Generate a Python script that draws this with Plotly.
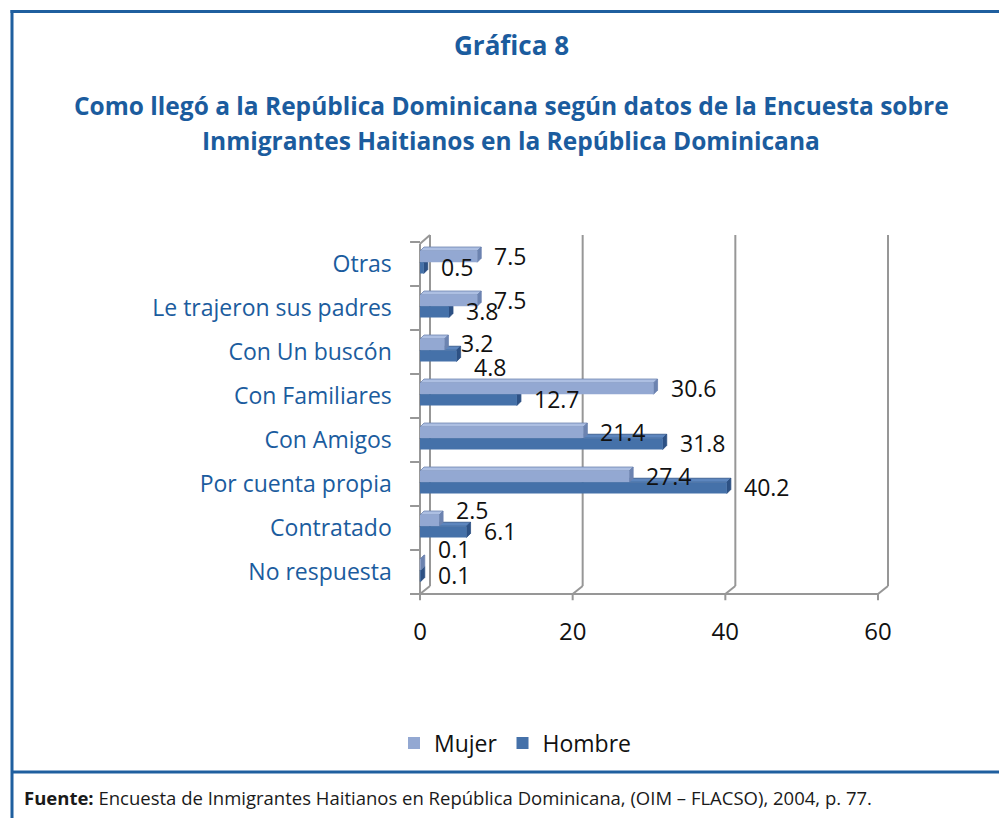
import plotly.graph_objects as go

# Survey categories, listed bottom to top as they appear on the axis
categorias = ["No respuesta", "Contratado", "Por cuenta propia", "Con Amigos",
              "Con Familiares", "Con Un buscón", "Le trajeron sus padres", "Otras"]
mujer = [0.1, 2.5, 27.4, 21.4, 30.6, 3.2, 7.5, 7.5]
hombre = [0.1, 6.1, 40.2, 31.8, 12.7, 4.8, 3.8, 0.5]
x_ticks = [0, 20, 40, 60]

# value labels that sit moved off their bar (pixels, + is up)
nudge_mujer = {"Contratado": 10, "No respuesta": 15, "Con Un buscón": 1}
nudge_hombre = {"Con Un buscón": -12}

W, H = 999, 818
FONT = "Open Sans"
AZUL = "#1B5C9E"
GRIS = "#979797"

# axis geometry (pixels) -> paper domains
X0_PX, X60_PX = 420, 878
KX = (X60_PX - X0_PX) / 60.0
XR = [-1.6, 62.2]
CAT_TOP_PX, CAT_BOT_PX = 242, 594
KY = (CAT_BOT_PX - CAT_TOP_PX) / 8.0
YR = [-0.72, 7.72]
x_dom = [(X0_PX + XR[0] * KX) / W, (X0_PX + XR[1] * KX) / W]
y_bot_px = CAT_BOT_PX + (-0.5 - YR[0]) * KY
y_top_px = CAT_TOP_PX - (YR[1] - 7.5) * KY
y_dom = [1 - y_bot_px / H, 1 - y_top_px / H]

# 3D depth of walls and bars, in data units
WALL_DX, WALL_DY = 10 / KX, 8 / KY
BAR_DX, BAR_DY = 4 / KX, 4 / KY
BAR_W = 0.255
OFF_M, OFF_H = 0.04, -0.215

col_m = dict(front="#93A8D2", top="#ADBFE2", side="#6C83B0")
col_h = dict(front="#4571A9", top="#5D86BE", side="#2D5184")

fig = go.Figure()
fig.add_trace(go.Bar(
    y=categorias, x=mujer, name="Mujer", orientation="h",
    width=BAR_W, offset=OFF_M, marker=dict(color=col_m["front"], line=dict(width=0)),
    legendrank=1, hoverinfo="x+y+name",
))
fig.add_trace(go.Bar(
    y=categorias, x=hombre, name="Hombre", orientation="h",
    width=BAR_W, offset=OFF_H, marker=dict(color=col_h["front"], line=dict(width=0)),
    legendrank=2, hoverinfo="x+y+name",
))

shapes = []


def line(x0, y0, x1, y1, color=GRIS, width=2, layer="below"):
    shapes.append(dict(type="line", xref="x", yref="y", x0=x0, y0=y0, x1=x1, y1=y1,
                       line=dict(color=color, width=width), layer=layer))


# back wall gridlines with their slanted floor joins
for v in x_ticks:
    line(v + WALL_DX, -0.5 + WALL_DY, v + WALL_DX, 7.66)
    line(v, -0.5, v + WALL_DX, -0.5 + WALL_DY)
    line(v, -0.5, v, -0.64)
# front floor edge and left axis
line(-1.3, -0.5, 60, -0.5)
line(0, -0.5, 0, 7.46)
line(0, 7.46, WALL_DX, 7.66)
for k in range(9):
    line(-1.3, k - 0.5, 0, k - 0.5)


def box3d(i, v, off, col):
    y0, y1 = i + off, i + off + BAR_W
    top = f"M 0 {y1} L {v} {y1} L {v + BAR_DX} {y1 + BAR_DY} L {BAR_DX} {y1 + BAR_DY} Z"
    side = f"M {v} {y0} L {v} {y1} L {v + BAR_DX} {y1 + BAR_DY} L {v + BAR_DX} {y0 + BAR_DY} Z"
    for p, c in ((top, col["top"]), (side, col["side"])):
        shapes.append(dict(type="path", xref="x", yref="y", path=p, fillcolor=c,
                           line=dict(color=col["side"], width=0.8), layer="between"))


for i, v in enumerate(hombre):
    box3d(i, v, OFF_H, col_h)
for i, v in enumerate(mujer):
    box3d(i, v, OFF_M, col_m)

# frame of the figure
BORDE = "#1F5F9F"
for s in (
    dict(x0=12 / W, x1=12 / W, y0=0, y1=1 - 10 / H),
    dict(x0=10.5 / W, x1=1, y0=1 - 11.5 / H, y1=1 - 11.5 / H),
    dict(x0=12 / W, x1=1, y0=1 - 772 / H, y1=1 - 772 / H),
):
    shapes.append(dict(type="line", xref="paper", yref="paper", line=dict(color=BORDE, width=3), **s))


def texto(t, x_px, y_px, size, color, anchor="center"):
    return dict(text=t, xref="paper", yref="paper", x=x_px / W, y=1 - y_px / H,
                showarrow=False, xanchor=anchor, yanchor="middle",
                font=dict(family=FONT, size=size, color=color))


annotations = [
    texto("<b>Gráfica 8</b>", 511, 45, 26, AZUL),
    texto("<b>Como llegó a la República Dominicana según datos de la Encuesta sobre</b>", 511, 105, 24.5, AZUL),
    texto("<b>Inmigrantes Haitianos en la República Dominicana</b>", 511, 140, 24.5, AZUL),
    texto("<b>Fuente:</b> Encuesta de Inmigrantes Haitianos en República Dominicana, (OIM – FLACSO), 2004, p. 77.",
          22, 797, 18.5, "#1a1a1a", anchor="left"),
]

# value labels to the right of each bar
for vals, off, nudge in ((mujer, OFF_M, nudge_mujer), (hombre, OFF_H, nudge_hombre)):
    for i, (cat, v) in enumerate(zip(categorias, vals)):
        annotations.append(dict(
            text=f"{v}", xref="x", yref="y", x=v, y=i + off + BAR_W / 2,
            xanchor="left", yanchor="middle", xshift=15, yshift=nudge.get(cat, 0) + 1,
            showarrow=False, font=dict(family=FONT, size=23, color="#111"),
        ))

fig.update_layout(
    width=W, height=H, margin=dict(l=0, r=0, t=0, b=0),
    paper_bgcolor="white", plot_bgcolor="rgba(0,0,0,0)",
    barmode="overlay", shapes=shapes, annotations=annotations,
    xaxis=dict(domain=x_dom, range=XR, tickvals=x_ticks, showgrid=False, zeroline=False,
               showline=False, ticks="", ticklabelstandoff=11,
               tickfont=dict(family=FONT, size=24, color="#111")),
    yaxis=dict(domain=y_dom, range=YR, type="category", showgrid=False, zeroline=False,
               showline=False, ticks="", ticklabelstandoff=15,
               tickfont=dict(family=FONT, size=23, color=AZUL)),
    legend=dict(orientation="h", x=515 / W, y=1 - 743 / H, xanchor="center", yanchor="middle",
                font=dict(family=FONT, size=23, color="#111"), bgcolor="rgba(0,0,0,0)"),
    showlegend=True,
)

fig.write_html("out.html")
